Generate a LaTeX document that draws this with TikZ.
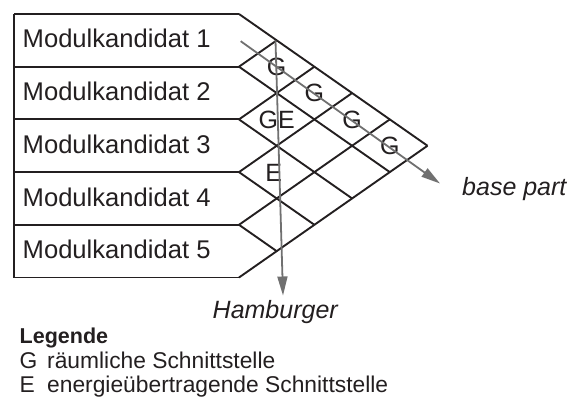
\documentclass[tikz,border=0pt]{standalone}
\usepackage{fontspec}
\setmainfont{Liberation Sans}
\usetikzlibrary{arrows.meta}
\definecolor{ink}{HTML}{231F20}
\definecolor{axisgray}{HTML}{707070}
\tikzset{
  gridline/.style={draw=ink, line width=1.9pt, line join=miter},
  axisarrow/.style={draw=axisgray, line width=1.8pt,
    -{Triangle[length=19pt,width=10pt]}},
  rowlabel/.style={anchor=base west, inner sep=0pt, text=ink,
    font=\fontsize{25.6}{30}\selectfont},
  celltext/.style={inner sep=0pt, text=ink,
    font=\fontsize{25}{30}\selectfont},
  axislabel/.style={anchor=base west, inner sep=0pt, text=ink,
    font=\fontsize{25}{30}\selectfont\itshape},
  legendtext/.style={anchor=base west, inner sep=0pt, text=ink,
    font=\fontsize{22.8}{26}\selectfont},
}
\begin{document}
\begin{tikzpicture}[x=1pt,y=-1pt]
\useasboundingbox (0,0) rectangle (573,397);
% geometry: left edge, corner column, half cell width, half row height
\def\xl{14}
\def\xr{239}
\def\hw{37.7}
\def\hh{26.35}
% row boundaries, label boxes and rotated interface matrix
\draw[gridline] (\xl,14) -- (\xl,{14+10*\hh});
\foreach \k in {0,...,5}{
  \coordinate (b\k) at (\xr,{14+2*\hh*\k});
  \draw[gridline] (\xl,{14+2*\hh*\k}) -- (b\k);
}
\foreach \k in {0,...,4}{
  \coordinate (d\k) at ({\xr+\hw*(5-\k)},{14+2*\hh*\k+\hh*(5-\k)});
  \draw[gridline] (b\k) -- (d\k);
}
\foreach \k in {1,...,5}{
  \coordinate (u\k) at ({\xr+\hw*\k},{14+2*\hh*\k-\hh*\k});
  \draw[gridline] (b\k) -- (u\k);
}
% module labels
\foreach \i in {1,...,5}{
  \node[rowlabel] (m\i) at (22.5,{14+\hh*(2*\i-1)+7.6}) {Modulkandidat \i};
}
% interface entries, cell (i,j) centred between rows i and j
\node[celltext] (c12) at ({\xr+\hw},{14+\hh*2}) {G};
\node[celltext] (c13) at ({\xr+2*\hw},{14+\hh*3}) {G};
\node[celltext] (c14) at ({\xr+3*\hw},{14+\hh*4}) {G};
\node[celltext] (c15) at ({\xr+4*\hw},{14+\hh*5}) {G};
\node[celltext] (c23) at ({\xr+\hw},{14+\hh*4}) {GE};
\node[celltext] (c34) at ({\xr+\hw-3},{14+\hh*6+1}) {E};
% reading directions
\coordinate (bpstart) at (240.7,41.2);
\coordinate (bpend) at (440,183.5);
\coordinate (hbstart) at (275.5,40.5);
\coordinate (hbend) at (283,295.5);
\draw[axisarrow] (bpstart) -- (bpend);
\draw[axisarrow] (hbstart) -- (hbend);
\node[axislabel] (basepart) at (462,195) {base part};
\node[axislabel] (hamburger) at (212.5,318) {Hamburger};
% legend
\node[legendtext, font=\fontsize{21.5}{24}\selectfont\bfseries] (leg) at (19.5,343) {Legende};
\node[legendtext] (legG) at (19.5,368.5) {G};
\node[legendtext] (legGt) at (47,368.5) {räumliche Schnittstelle};
\node[legendtext] (legE) at (19.5,392) {E};
\node[legendtext] (legEt) at (47,392) {energieübertragende Schnittstelle};
\end{tikzpicture}
\end{document}
